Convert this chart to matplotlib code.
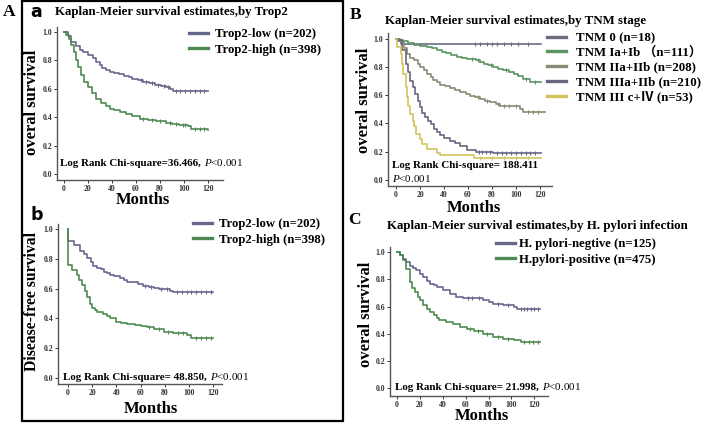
import matplotlib
matplotlib.use("Agg")
import numpy as np
import matplotlib.pyplot as plt
from matplotlib.lines import Line2D
from matplotlib.patches import Rectangle
from matplotlib.font_manager import FontProperties
from matplotlib.text import Annotation

plt.rcParams['mathtext.fontset'] = 'custom'
plt.rcParams['mathtext.rm'] = 'Liberation Serif'
plt.rcParams['mathtext.it'] = 'Liberation Serif:italic'
plt.rcParams['mathtext.bf'] = 'Liberation Serif:bold'

SERIF = 'Liberation Serif'

# ---------------- data ----------------
# Panel a: overall survival by Trop2
a_low_t = [0, 3, 6, 10, 13, 16, 20, 24, 27, 30, 32, 35, 38, 42, 46, 50, 54, 57, 62, 66, 71, 76, 81, 85, 88, 91, 120]
a_low_s = [1.0, 0.97, 0.93, 0.90, 0.875, 0.86, 0.84, 0.815, 0.79, 0.765, 0.745, 0.73, 0.72, 0.71, 0.705, 0.69, 0.68, 0.67, 0.66, 0.65, 0.64, 0.63, 0.62, 0.61, 0.60, 0.585, 0.585]
a_low_cens = [64, 68, 73, 78, 83, 87, 93, 97, 101, 105, 109, 113, 117]
a_high_t = [0, 2, 4, 6, 8, 10, 12, 14, 17, 20, 23, 27, 31, 35, 38, 42, 47, 52, 57, 63, 70, 77, 85, 90, 96, 103, 106, 120]
a_high_s = [1.0, 0.98, 0.95, 0.91, 0.86, 0.80, 0.75, 0.70, 0.65, 0.61, 0.57, 0.53, 0.50, 0.48, 0.46, 0.45, 0.435, 0.42, 0.405, 0.39, 0.38, 0.373, 0.36, 0.35, 0.343, 0.336, 0.315, 0.31]
a_high_cens = [66, 73, 80, 88, 93, 99, 101, 109, 113, 117]

# Panel b: disease-free survival by Trop2
b_low_t = [0, 0, 5, 10, 13, 16, 19, 21, 24, 27, 30, 32, 35, 38, 43, 46, 49, 54, 58, 62, 67, 71, 75, 79, 84, 87, 120]
b_low_s = [1.0, 0.917, 0.894, 0.85, 0.83, 0.805, 0.78, 0.753, 0.74, 0.73, 0.715, 0.703, 0.695, 0.685, 0.67, 0.66, 0.647, 0.643, 0.63, 0.62, 0.613, 0.607, 0.60, 0.596, 0.585, 0.575, 0.575]
b_low_cens = [64, 69, 77, 82, 90, 94, 98, 102, 106, 110, 114, 118]
b_high_t = [0, 0, 3, 7, 9, 11.5, 14, 16, 18, 20, 22, 24, 29, 32, 35, 40, 44, 49, 55, 60, 65, 71, 79, 87, 98, 102, 120]
b_high_s = [1.0, 0.76, 0.726, 0.69, 0.66, 0.625, 0.585, 0.546, 0.50, 0.467, 0.455, 0.445, 0.427, 0.415, 0.40, 0.378, 0.368, 0.36, 0.355, 0.348, 0.34, 0.326, 0.31, 0.30, 0.288, 0.27, 0.27]
b_high_cens = [67, 75, 83, 91, 95, 106, 110, 114, 118]

# Panel B: overall survival by TNM stage
tnm0_t = [0, 2, 4, 121]
tnm0_s = [1.0, 0.98, 0.964, 0.964]
tnm0_cens = [66, 70, 76, 80, 84, 90, 96, 102, 110]
tnm1_t = [0, 3, 6, 10, 15, 20, 26, 30, 34, 38, 42, 46, 51, 55, 59, 67, 70, 73, 77, 81, 85, 89, 94, 98, 102, 106, 112, 121]
tnm1_s = [1.0, 0.99, 0.983, 0.97, 0.953, 0.945, 0.94, 0.93, 0.917, 0.905, 0.898, 0.885, 0.87, 0.865, 0.858, 0.846, 0.835, 0.822, 0.81, 0.80, 0.785, 0.775, 0.76, 0.75, 0.735, 0.716, 0.69, 0.69]
tnm1_cens = [63, 68, 79, 92, 108, 116]
tnm2_t = [0, 2, 4, 7, 9, 12, 15, 18, 20, 23, 26, 29, 31, 34, 37, 41, 45, 49, 53, 58, 62, 66, 70, 74, 78, 83, 87, 98, 103, 106, 124]
tnm2_s = [1.0, 0.99, 0.976, 0.93, 0.893, 0.865, 0.846, 0.82, 0.80, 0.775, 0.75, 0.725, 0.704, 0.69, 0.675, 0.663, 0.652, 0.635, 0.62, 0.607, 0.597, 0.585, 0.573, 0.56, 0.55, 0.535, 0.526, 0.52, 0.502, 0.479, 0.479]
tnm2_cens = [68, 76, 85, 90, 94, 100, 110, 114, 118]
tnm3_t = [0, 2, 5, 8, 10, 12, 14, 16, 18, 20, 22, 24, 27, 29, 32, 34, 37, 40, 45, 49, 53, 59, 67, 81, 121]
tnm3_s = [1.0, 0.99, 0.92, 0.82, 0.76, 0.70, 0.655, 0.61, 0.56, 0.514, 0.475, 0.443, 0.415, 0.396, 0.36, 0.336, 0.315, 0.30, 0.277, 0.26, 0.242, 0.21, 0.201, 0.194, 0.194]
tnm3_cens = [69, 72, 75, 78, 84, 88, 92, 96, 100, 104, 108, 112, 116]
tnm4_t = [0, 1, 4, 5, 6, 8, 9, 10, 12, 14, 15, 17, 20, 22, 26, 34, 37, 65, 121]
tnm4_s = [1.0, 0.94, 0.893, 0.82, 0.75, 0.66, 0.585, 0.52, 0.467, 0.42, 0.384, 0.325, 0.29, 0.254, 0.218, 0.194, 0.178, 0.154, 0.154]
tnm4_cens = [70, 80, 90, 100, 110]

# Panel C: overall survival by H. pylori infection
c_neg_t = [0, 3, 5, 8, 11, 14, 17, 20, 23, 26, 29, 32, 35, 40, 46, 52, 58, 70, 75, 80, 84, 93, 102, 105, 125]
c_neg_s = [1.0, 0.975, 0.95, 0.925, 0.90, 0.885, 0.866, 0.84, 0.817, 0.79, 0.768, 0.755, 0.744, 0.72, 0.695, 0.67, 0.663, 0.663, 0.646, 0.635, 0.622, 0.61, 0.598, 0.58, 0.58]
c_neg_cens = [62, 66, 72, 88, 97, 108, 111, 114, 117, 120, 123]
c_pos_t = [0, 3, 5, 8, 11, 13, 15.5, 18, 20, 23, 26, 29, 32, 35, 37, 43, 49, 55, 61, 67, 75, 84, 93, 102, 108, 125]
c_pos_s = [1.0, 0.975, 0.94, 0.878, 0.78, 0.74, 0.707, 0.67, 0.646, 0.615, 0.585, 0.56, 0.537, 0.515, 0.50, 0.488, 0.47, 0.45, 0.434, 0.42, 0.402, 0.378, 0.366, 0.354, 0.34, 0.34]
c_pos_cens = [64, 71, 79, 88, 97, 111, 115, 119, 123]

x_ticks = [0, 20, 40, 60, 80, 100, 120]
y_ticks = [0.0, 0.2, 0.4, 0.6, 0.8, 1.0]

labels_trop2 = ["Trop2-low (n=202)", "Trop2-high (n=398)"]
labels_tnm = ["TNM 0 (n=18)", "TNM Ia+Ib （n=111）", "TNM IIa+IIb (n=208)",
              "TNM IIIa+IIb (n=210)", "TNM III c+Ⅳ (n=53)"]
labels_hp = ["H. pylori-negtive (n=125)", "H.pylori-positive (n=475)"]

# ---------------- styling ----------------
C_BLUE = '#67678c'
C_GREEN = '#4e8a52'
TNM_COLORS = ['#6c6c80', '#5a9460', '#868c76', '#686680', '#d2c35e']

W, H = 702, 424
fig = plt.figure(figsize=(W / 100, H / 100), dpi=100)


def fx(x):
    return x / W


def fy(y):
    return 1 - y / H


def make_ax(l, t, r, b, xlim, ylim):
    ax = fig.add_axes([fx(l), fy(b), fx(r) - fx(l), fy(t) - fy(b)])
    ax.set_xlim(*xlim)
    ax.set_ylim(*ylim)
    for s in ['top', 'right']:
        ax.spines[s].set_visible(False)
    for s in ['left', 'bottom']:
        ax.spines[s].set_color('#555555')
        ax.spines[s].set_linewidth(1.0)
    ax.set_xticks(x_ticks)
    ax.set_yticks(y_ticks)
    ax.set_xticklabels([str(v) for v in x_ticks])
    ax.set_yticklabels(['%.1f' % v for v in y_ticks])
    ax.tick_params(length=2, width=0.7, pad=1.5, colors='#333333', labelsize=5.6)
    for lab in ax.get_xticklabels() + ax.get_yticklabels():
        lab.set_fontfamily(SERIF)
        lab.set_fontweight('bold')
    ax.patch.set_alpha(0)
    return ax


def ftext(x, y, s, size, ha='left', va='center', weight='bold', family=SERIF, rot=0, **kw):
    return fig.text(fx(x), fy(y), s, fontsize=size, ha=ha, va=va, fontweight=weight,
                    family=family, rotation=rot, **kw)


def p_after(t1, p_part, size, dx=3):
    return fig.add_artist(Annotation(p_part, xy=(1, 0), xycoords=t1, xytext=(dx, 0),
                                     textcoords='offset pixels', ha='left', va='bottom',
                                     fontsize=size, family=SERIF, fontweight='normal'))


def legend(ax, colors, labels, x, y, size, spacing, hlen, hpad, fam=SERIF):
    handles = [Line2D([0], [0], color=c, lw=2.4) for c in colors]
    prop = FontProperties(family=fam, weight='bold', size=size)
    return ax.legend(handles, labels, loc='upper left', bbox_to_anchor=(fx(x), fy(y)),
                     bbox_transform=fig.transFigure, frameon=False, prop=prop,
                     borderpad=0, borderaxespad=0, labelspacing=spacing,
                     handlelength=hlen, handletextpad=hpad)


LW = 1.2


def km(ax, t, s, cens, color):
    ax.step(t, s, where='post', color=color, lw=LW)
    t_arr = np.asarray(t, float)
    s_arr = np.asarray(s, float)
    idx = np.searchsorted(t_arr, np.asarray(cens, float), side='right') - 1
    ax.plot(cens, s_arr[idx], ls='none', marker='|', ms=3, mew=0.8, color=color)


# ---- Panel a ----
ax_a = make_ax(57, 27, 223, 180, (-5.8, 132.5), (-0.042, 1.035))
km(ax_a, a_low_t, a_low_s, a_low_cens, C_BLUE)
km(ax_a, a_high_t, a_high_s, a_high_cens, C_GREEN)
legend(ax_a, [C_BLUE, C_GREEN], labels_trop2, 189, 28, 9.2, 0.28, 1.45, 0.55)

# ---- Panel b ----
ax_b = make_ax(58, 224, 222, 384, (-8.3, 127.3), (-0.04, 1.034))
km(ax_b, b_low_t, b_low_s, b_low_cens, C_BLUE)
km(ax_b, b_high_t, b_high_s, b_high_cens, C_GREEN)
legend(ax_b, [C_BLUE, C_GREEN], labels_trop2, 193, 218, 9.2, 0.28, 1.45, 0.55)

# ---- Panel B ----
ax_B = make_ax(388, 33, 552, 186, (-6.7, 130), (-0.042, 1.039))
for tt, ss, cc, c in zip([tnm0_t, tnm1_t, tnm2_t, tnm3_t, tnm4_t],
                         [tnm0_s, tnm1_s, tnm2_s, tnm3_s, tnm4_s],
                         [tnm0_cens, tnm1_cens, tnm2_cens, tnm3_cens, tnm4_cens], TNM_COLORS):
    km(ax_B, tt, ss, cc, c)
legend(ax_B, TNM_COLORS, labels_tnm, 547, 32, 9.3, 0.2, 1.5, 0.75,
       fam=[SERIF, 'Noto Sans CJK SC'])

# ---- Panel C ----
ax_C = make_ax(390, 247, 548, 396, (-6.1, 132), (-0.055, 1.037))
km(ax_C, c_neg_t, c_neg_s, c_neg_cens, C_BLUE)
km(ax_C, c_pos_t, c_pos_s, c_pos_cens, C_GREEN)
legend(ax_C, [C_BLUE, C_GREEN], labels_hp, 496, 238, 9.2, 0.28, 1.45, 0.35)

# ---- texts ----
ftext(3, 12, 'A', 12.5)
ftext(30, 12, 'a', 12.5, family='DejaVu Sans')
ftext(30, 215, 'b', 12.5, family='DejaVu Sans')
ftext(350, 15, 'B', 12.5)
ftext(348, 220, 'C', 12.5)

ftext(55, 12, 'Kaplan-Meier survival estimates,by Trop2', 9.3)
ftext(385, 21, 'Kaplan-Meier survival estimates,by TNM stage', 9.3)
ftext(387, 226, 'Kaplan-Meier survival estimates,by H. pylori infection', 9.3)

ftext(32, 102, 'overal survival', 12, ha='center', rot=90)
ftext(32, 301, 'Disease-free survival', 11.3, ha='center', rot=90)
ftext(364, 100, 'overal survival', 12, ha='center', rot=90)
ftext(366, 314, 'overal survival', 12, ha='center', rot=90)

ftext(143, 200, 'Months', 12, ha='center')
ftext(151, 409, 'Months', 12, ha='center')
ftext(474, 208, 'Months', 12, ha='center')
ftext(482, 416, 'Months', 12, ha='center')

LR = 7.9
t1 = ftext(60, 164, 'Log Rank Chi-square=36.466,', LR)
p_after(t1, r'$\it{P}$<0.001', LR)
t2 = ftext(63, 378, 'Log Rank Chi-square= 48.850,', LR)
p_after(t2, r'$\it{P}$<0.001', LR)
ftext(392, 165, 'Log Rank Chi-square= 188.411', LR)
ftext(392, 179, r'$\it{P}$<0.001', LR, weight='normal')
t4 = ftext(395, 387, 'Log Rank Chi-square= 21.998,', LR)
p_after(t4, r'$\it{P}$<0.001', LR)

fig.add_artist(Rectangle((fx(22), fy(421)), fx(343) - fx(22), fy(1) - fy(421),
                         transform=fig.transFigure, fill=False, ec='black', lw=1.6))

fig.savefig('out.png', dpi=100)
